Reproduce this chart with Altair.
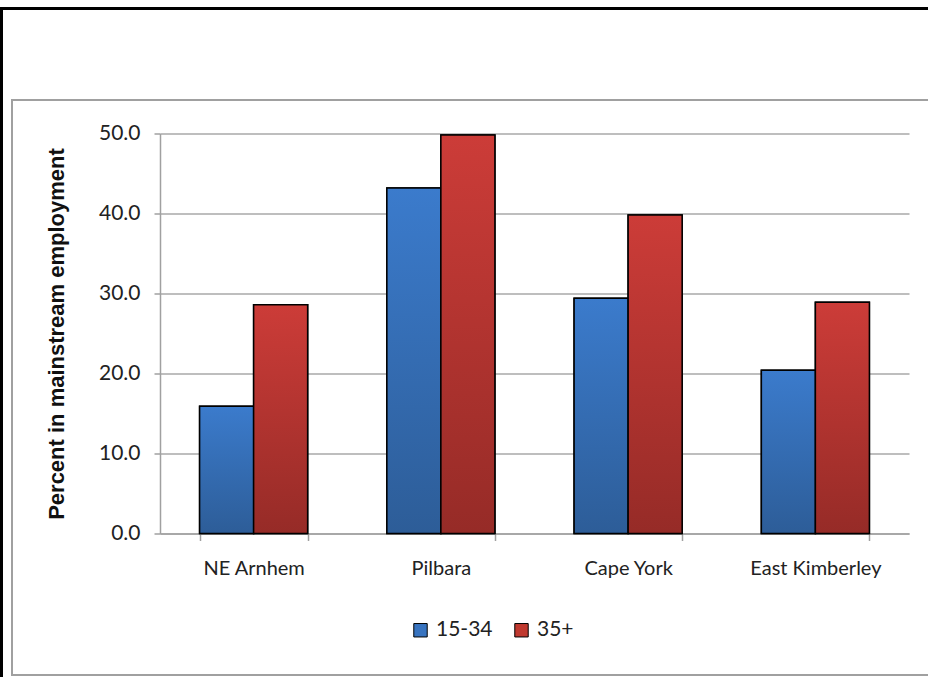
import altair as alt
import pandas as pd

regions = ["NE Arnhem", "Pilbara", "Cape York", "East Kimberley"]
age_groups = ["15-34", "35+"]
young = [15.9, 43.2, 29.4, 20.4]
older = [28.6, 49.8, 39.8, 28.9]
y_ticks = [0, 10, 20, 30, 40, 50]

rows = []
for r, a, b in zip(regions, young, older):
    rows.append({"region": r, "age": age_groups[0], "pct": a})
    rows.append({"region": r, "age": age_groups[1], "pct": b})
df = pd.DataFrame(rows)

BLUE = "#3874c0"
RED = "#c0392f"
blue_grad = alt.Gradient(gradient="linear", x1=0, y1=0, x2=0, y2=1,
                         stops=[alt.GradientStop(color="#3b7bcc", offset=0),
                                alt.GradientStop(color="#2d5d98", offset=1)])
red_grad = alt.Gradient(gradient="linear", x1=0, y1=0, x2=0, y2=1,
                        stops=[alt.GradientStop(color="#cc3c38", offset=0),
                               alt.GradientStop(color="#962b27", offset=1)])

x_enc = alt.X("region:N", sort=regions, title=None,
              scale=alt.Scale(domain=regions, paddingInner=0.423, paddingOuter=0.2115),
              axis=alt.Axis(labelAngle=0, tickBand="extent", grid=False, labelPadding=18,
                            tickSize=7, labelFont="Lato", labelFontSize=20, labelColor="#222222",
                            domainColor="#a0a0a0", tickColor="#a0a0a0", domainWidth=1.5, tickWidth=1.5))
xo_enc = alt.XOffset("age:N", sort=age_groups,
                     scale=alt.Scale(domain=age_groups, paddingInner=0, paddingOuter=0))
y_enc = alt.Y("pct:Q", title="Percent in mainstream employment",
              scale=alt.Scale(domain=[0, 50], nice=False),
              axis=alt.Axis(values=y_ticks, format=".1f", labelFont="Lato", labelFontSize=21,
                            labelColor="#222222", labelPadding=14, tickSize=6,
                            tickColor="#a0a0a0", domainColor="#a0a0a0", domainWidth=1.5, tickWidth=1.5,
                            gridColor="#a8a8a8", gridWidth=1.5,
                            titleFont="Liberation Sans", titleFontSize=22, titleFontWeight="bold",
                            titleColor="#111111", titlePadding=30))

base = alt.Chart(df)

solid = base.mark_bar(stroke="black", strokeWidth=1.5).encode(
    x=x_enc, xOffset=xo_enc, y=y_enc,
    color=alt.Color("age:N", sort=age_groups,
                    scale=alt.Scale(domain=age_groups, range=[BLUE, RED]),
                    legend=alt.Legend(title=None, orient="none", direction="horizontal",
                                      legendX=250, legendY=486, padding=0,
                                      symbolType="square", symbolSize=180,
                                      symbolStrokeColor="black", symbolStrokeWidth=1,
                                      labelFont="Lato", labelFontSize=21, labelColor="#222222",
                                      labelOffset=5, columnPadding=18)))

grad_blue = base.transform_filter(alt.datum.age == age_groups[0]).mark_bar(
    fill=blue_grad, stroke="black", strokeWidth=1.5).encode(x=x_enc, xOffset=xo_enc, y=y_enc)
grad_red = base.transform_filter(alt.datum.age == age_groups[1]).mark_bar(
    fill=red_grad, stroke="black", strokeWidth=1.5).encode(x=x_enc, xOffset=xo_enc, y=y_enc)

deco = alt.Data(values=[{"k": 1}])
outer_border = alt.Chart(deco).mark_rect(fillOpacity=0, stroke="black", strokeWidth=3).encode(
    x=alt.value(-158.5), x2=alt.value(820), y=alt.value(-125), y2=alt.value(600))
inner_border = alt.Chart(deco).mark_rect(fillOpacity=0, stroke="#a0a0a0", strokeWidth=2).encode(
    x=alt.value(-148), x2=alt.value(810), y=alt.value(-33.5), y2=alt.value(541.5))

chart = alt.layer(outer_border, inner_border, solid, grad_blue, grad_red).properties(
    width=749, height=400,
    padding={"left": 160, "top": 133.5, "right": 19, "bottom": 143.5},
    autosize=alt.AutoSizeParams(type="none"),
    background="white",
).configure_view(strokeWidth=0)

chart.save("out.html", embed_options={"renderer": "svg", "actions": False})
